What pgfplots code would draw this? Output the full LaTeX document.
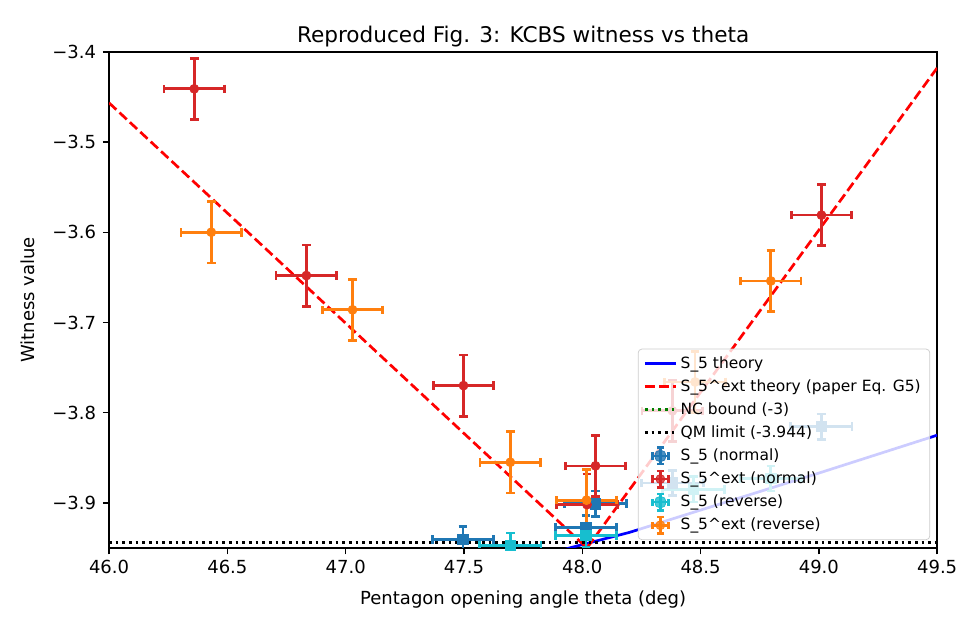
\documentclass[border=0pt]{standalone}
\usepackage{fontspec}
\setmainfont{DejaVu Sans}
\usepackage{pgfplots}
\pgfplotsset{compat=1.18}
\definecolor{tabblue}{HTML}{1F77B4}
\definecolor{tabred}{HTML}{D62728}
\definecolor{tabcyan}{HTML}{17BECF}
\definecolor{taborange}{HTML}{FF7F0E}
\definecolor{legframe}{HTML}{CCCCCC}
\newcommand{\errleg}[2]{%
  \draw[#1, line width=1.5pt] (0.3cm,-0.16cm)--(0.3cm,0.16cm) (0.14cm,0cm)--(0.46cm,0cm);
  \draw[#1, line width=1.5pt] (0.23cm,-0.16cm)--(0.37cm,-0.16cm) (0.23cm,0.16cm)--(0.37cm,0.16cm)
     (0.14cm,-0.07cm)--(0.14cm,0.07cm) (0.46cm,-0.07cm)--(0.46cm,0.07cm);
  #2}
\pgfplotsset{
  errstyle/.style={only marks, #1, mark options={solid, fill=#1, draw=#1},
    /pgfplots/error bars/x dir=both, /pgfplots/error bars/x explicit,
    /pgfplots/error bars/y dir=both, /pgfplots/error bars/y explicit,
    /pgfplots/error bars/error mark=|,
    /pgfplots/error bars/error bar style={line width=1.5pt, #1, solid},
    /pgfplots/error bars/error mark options={#1, line width=1.5pt, mark size=2.4pt, solid}}
}
\begin{document}
\begin{tikzpicture}
\begin{axis}[
  scale only axis, width=460pt, height=275.6pt,
  xmin=46, xmax=49.5, ymin=-3.95, ymax=-3.4,
  xtick={46,46.5,47,47.5,48,48.5,49,49.5},
  xticklabels={46.0,46.5,47.0,47.5,48.0,48.5,49.0,49.5},
  ytick={-3.9,-3.8,-3.7,-3.6,-3.5,-3.4},
  yticklabels={−3.9,−3.8,−3.7,−3.6,−3.5,−3.4},
  tick label style={font=\fontsize{10}{12}\selectfont},
  xticklabel style={anchor=base, inner sep=0pt, yshift=-10.7pt},
  yticklabel style={anchor=east, inner sep=0pt, xshift=-3.5pt},
  title={Reproduced Fig. 3: KCBS witness vs theta},
  title style={font=\fontsize{12}{14}\selectfont, at={(axis description cs:0.5,1.0192)}, anchor=base, inner sep=0pt, yshift=-6.1pt},
  xlabel={Pentagon opening angle theta (deg)},
  xlabel style={font=\fontsize{10}{12}\selectfont, at={(axis description cs:0.5,-0.1139)}, anchor=base, inner sep=0pt},
  ylabel={Witness value},
  ylabel style={font=\fontsize{10}{12}\selectfont, at={(axis description cs:-0.0895,0.5)}, anchor=base, inner sep=0pt},
  tick align=outside, xtick pos=bottom, ytick pos=left,
  major tick length=3.5pt,
  every tick/.style={black, line width=0.8pt},
  axis line style={line width=0.8pt, black},
  legend cell align=left,
  legend style={font=\fontsize{8.6}{10}\selectfont, at={(axis description cs:0.9915,0.016)}, anchor=south east,
    draw=legframe, rounded corners=2pt, fill=white, fill opacity=0.8, draw opacity=1, text opacity=1,
    row sep=0.8pt, inner xsep=3pt, inner ysep=2pt},
]
% theory curves
\addplot[blue, line width=1.5pt, forget plot] coordinates {
 (47.80,-3.962) (47.949,-3.9498) (48.20,-3.9327) (48.50,-3.908) (49.00,-3.867) (49.50,-3.825)};
\addplot[red, line width=1.5pt, dash pattern=on 5.5pt off 2.4pt, forget plot] coordinates {
 (46.00,-3.4566) (48.02,-3.950) (49.50,-3.4178)};
\addplot[black, line width=1.5pt, dash pattern=on 1.5pt off 2.2pt, forget plot] coordinates {
 (46.00,-3.944) (49.50,-3.944)};
% S_5 normal
\addplot[mark=square*, mark size=2.9pt, forget plot, errstyle=tabblue] table[x index=0, y index=1, x error index=2, y error index=3] {
47.496 -3.9405 0.130 0.014
48.016 -3.927  0.130 0.013
48.056 -3.901  0.130 0.014
48.381 -3.878  0.130 0.014
49.010 -3.8155 0.130 0.014
};
% S_5^ext normal
\addplot[mark=*, mark size=2.5pt, forget plot, errstyle=tabred] table[x index=0, y index=1, x error index=2, y error index=3] {
46.360 -3.441 0.128 0.034
46.834 -3.648 0.128 0.034
47.498 -3.770 0.128 0.034
48.020 -3.902 0.128 0.034
48.056 -3.859 0.128 0.034
48.381 -3.798 0.128 0.034
49.011 -3.581 0.128 0.034
};
% S_5 reverse
\addplot[mark=square*, mark size=2.9pt, forget plot, errstyle=tabcyan] table[x index=0, y index=1, x error index=2, y error index=3] {
47.696 -3.947 0.130 0.0137
48.016 -3.936 0.130 0.013
48.470 -3.885 0.130 0.014
48.797 -3.873 0.130 0.014
};
% S_5^ext reverse
\addplot[mark=*, mark size=2.5pt, forget plot, errstyle=taborange] table[x index=0, y index=1, x error index=2, y error index=3] {
46.432 -3.600 0.128 0.034
47.029 -3.686 0.128 0.034
47.696 -3.855 0.128 0.034
48.018 -3.897 0.128 0.034
48.477 -3.766 0.128 0.034
48.797 -3.654 0.128 0.034
};
\addlegendimage{blue, line width=1.5pt}
\addlegendentry{S\_5 theory}
\addlegendimage{red, line width=1.5pt, dash pattern=on 5.5pt off 2.4pt}
\addlegendentry{S\_5\textasciicircum ext theory (paper Eq. G5)}
\addlegendimage{green!50!black, line width=1.5pt, dash pattern=on 1.5pt off 2.2pt}
\addlegendentry{NC bound (-3)}
\addlegendimage{black, line width=1.5pt, dash pattern=on 1.5pt off 2.2pt}
\addlegendentry{QM limit (-3.944)}
\addlegendimage{legend image code/.code={\errleg{tabblue}{\fill[tabblue] (0.3cm,0cm) ++(-2.9pt,-2.9pt) rectangle ++(5.8pt,5.8pt);}}}
\addlegendentry{S\_5 (normal)}
\addlegendimage{legend image code/.code={\errleg{tabred}{\fill[tabred] (0.3cm,0cm) circle (2.5pt);}}}
\addlegendentry{S\_5\textasciicircum ext (normal)}
\addlegendimage{legend image code/.code={\errleg{tabcyan}{\fill[tabcyan] (0.3cm,0cm) ++(-2.9pt,-2.9pt) rectangle ++(5.8pt,5.8pt);}}}
\addlegendentry{S\_5 (reverse)}
\addlegendimage{legend image code/.code={\errleg{taborange}{\fill[taborange] (0.3cm,0cm) circle (2.5pt);}}}
\addlegendentry{S\_5\textasciicircum ext (reverse)}
\end{axis}
\pgfresetboundingbox
\path (-60.6pt,-45.6pt) rectangle (483.8pt,304.4pt);
\end{tikzpicture}
\end{document}
